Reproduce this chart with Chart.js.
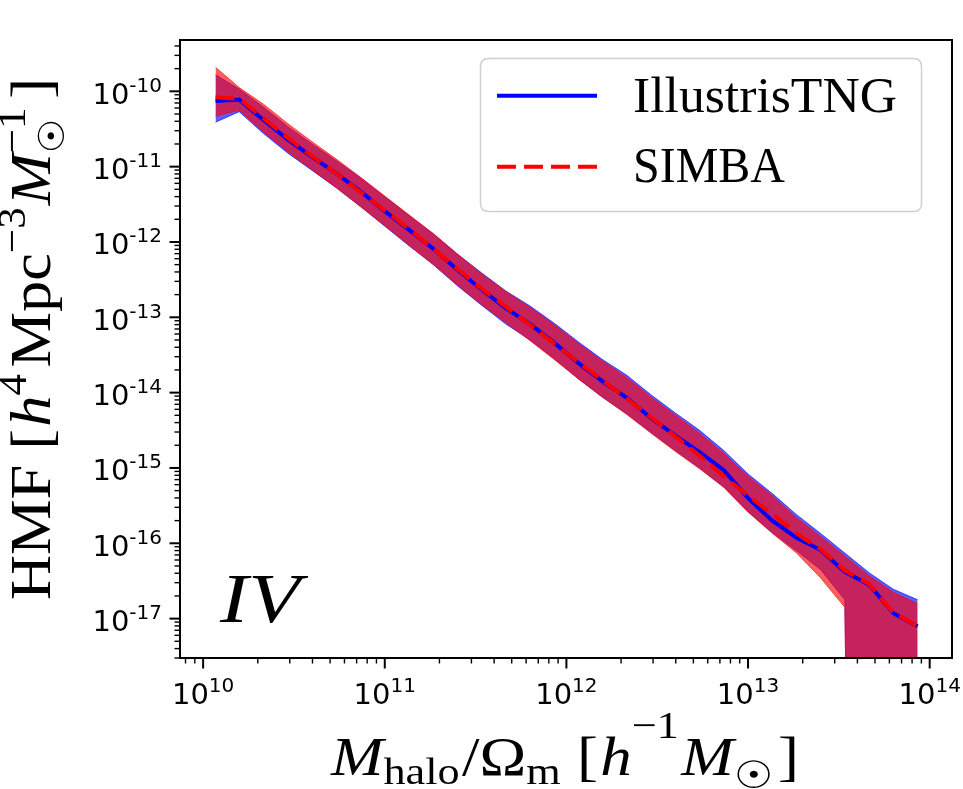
<!DOCTYPE html>
<html>
<head>
<meta charset="utf-8">
<title>HMF IllustrisTNG vs SIMBA</title>
<script src="https://cdn.jsdelivr.net/npm/chart.js@4.4.1/dist/chart.umd.min.js"></script>
<style>
  html, body { margin: 0; padding: 0; background: #fff; }
  canvas { display: block; }
</style>
</head>
<body>
<canvas id="grafico" width="963" height="789"></canvas>
<script>
// Centros de bin de masa [h^-1 Msun]
const masas = [1.17e10, 1.58e10, 2.15e10, 2.93e10, 3.98e10, 5.41e10, 7.36e10, 1.00e11, 1.36e11, 1.85e11,
               2.51e11, 3.41e11, 4.64e11, 6.31e11, 8.58e11, 1.17e12, 1.58e12, 2.15e12, 2.93e12, 3.98e12,
               5.41e12, 7.36e12, 1.00e13, 1.36e13, 1.85e13, 2.51e13, 3.41e13, 4.64e13, 6.31e13, 8.58e13];

// IllustrisTNG: media y banda
const tngMedia = [7.41e-11, 7.76e-11, 4.17e-11, 2.29e-11, 1.35e-11, 8.13e-12, 4.68e-12, 2.57e-12, 1.45e-12, 8.13e-13,
                  4.27e-13, 2.34e-13, 1.32e-13, 8.13e-14, 4.57e-14, 2.45e-14, 1.41e-14, 8.51e-15, 4.57e-15, 2.69e-15,
                  1.62e-15, 9.33e-16, 3.98e-16, 2.00e-16, 1.18e-16, 8.13e-17, 4.17e-17, 2.82e-17, 1.18e-17, 7.94e-18];
const tngArriba = [1.66e-10, 1.07e-10, 6.17e-11, 3.39e-11, 2.00e-11, 1.20e-11, 7.08e-12, 3.98e-12, 2.24e-12, 1.29e-12,
                   6.92e-13, 3.89e-13, 2.24e-13, 1.41e-13, 8.32e-14, 4.68e-14, 2.75e-14, 1.70e-14, 9.33e-15, 5.37e-15,
                   3.16e-15, 1.70e-15, 8.32e-16, 4.57e-16, 2.40e-16, 1.35e-16, 7.41e-17, 4.07e-17, 2.45e-17, 1.78e-17];
// los ultimos bins caen por debajo del eje (limite inferior <= 0)
const tngAbajo = [3.89e-11, 5.37e-11, 2.75e-11, 1.51e-11, 8.91e-12, 5.25e-12, 2.95e-12, 1.62e-12, 8.91e-13, 5.01e-13,
                  2.63e-13, 1.45e-13, 8.13e-14, 5.01e-14, 2.82e-14, 1.51e-14, 8.71e-15, 5.25e-15, 2.95e-15, 1.70e-15,
                  1.00e-15, 5.62e-16, 2.63e-16, 1.38e-16, 7.94e-17, 4.47e-17, 1.78e-17, 1e-40, 1e-40, 1e-40];

// SIMBA: media y banda
const simbaMedia = [8.32e-11, 7.94e-11, 4.37e-11, 2.40e-11, 1.38e-11, 8.13e-12, 4.57e-12, 2.63e-12, 1.48e-12, 8.13e-13,
                    4.37e-13, 2.40e-13, 1.38e-13, 7.94e-14, 4.47e-14, 2.51e-14, 1.45e-14, 8.32e-15, 4.68e-15, 2.63e-15,
                    1.45e-15, 7.76e-16, 4.27e-16, 2.45e-16, 1.35e-16, 8.32e-17, 4.37e-17, 2.88e-17, 1.20e-17, 7.94e-18];
const simbaArriba = [2.09e-10, 1.12e-10, 6.76e-11, 3.72e-11, 2.14e-11, 1.26e-11, 7.24e-12, 4.07e-12, 2.29e-12, 1.29e-12,
                     6.92e-13, 3.80e-13, 2.19e-13, 1.35e-13, 7.94e-14, 4.47e-14, 2.63e-14, 1.58e-14, 8.71e-15, 5.01e-15,
                     2.88e-15, 1.55e-15, 7.76e-16, 4.27e-16, 2.19e-16, 1.23e-16, 6.76e-17, 3.72e-17, 2.24e-17, 1.58e-17];
const simbaAbajo = [4.68e-11, 5.62e-11, 2.88e-11, 1.58e-11, 9.12e-12, 5.25e-12, 2.95e-12, 1.66e-12, 9.12e-13, 5.01e-13,
                    2.69e-13, 1.48e-13, 8.51e-14, 4.90e-14, 2.75e-14, 1.51e-14, 8.71e-15, 5.13e-15, 2.88e-15, 1.66e-15,
                    9.77e-16, 5.50e-16, 2.60e-16, 1.36e-16, 7.41e-17, 3.47e-17, 1.41e-17, 1e-40, 1e-40, 1e-40];

// Ticks mayores y sus exponentes
const xTicks = [1e10, 1e11, 1e12, 1e13, 1e14];
const xTickExp = ["10", "11", "12", "13", "14"];
const yTicks = [1e-10, 1e-11, 1e-12, 1e-13, 1e-14, 1e-15, 1e-16, 1e-17];
const yTickExp = ["-10", "-11", "-12", "-13", "-14", "-15", "-16", "-17"];

const SERIF = '"Liberation Serif", "Times New Roman", serif';
const SANS = '"DejaVu Sans", sans-serif';

function puntos(valores) {
    return valores.map((v, i) => ({ x: masas[i], y: v }));
}

// Dibuja trozos de texto seguidos (sub/superindices); "ancho" estira al ancho pedido
function dibujarTramos(ctx, tramos, x, y, alinear, ancho) {
    const anchos = tramos.map((t) => { ctx.font = t.font; return ctx.measureText(t.text).width; });
    let total = 0, pendiente = 0;
    tramos.forEach((t, i) => {
        total += t.dx || 0;
        if (t.hold) pendiente = anchos[i];
        else { total += Math.max(anchos[i], pendiente); pendiente = 0; }
    });
    const escala = ancho ? ancho / total : 1;
    const real = total * escala;
    let x0 = x;
    if (alinear === "center") x0 = x - real / 2;
    if (alinear === "right") x0 = x - real;
    ctx.save();
    ctx.translate(x0, y);
    ctx.scale(escala, 1);
    ctx.textAlign = "left";
    ctx.textBaseline = "alphabetic";
    let cx = 0;
    pendiente = 0;
    tramos.forEach((t, i) => {
        cx += t.dx || 0;
        ctx.font = t.font;
        ctx.fillText(t.text, cx, t.dy || 0);
        if (t.hold) pendiente = anchos[i];
        else { cx += Math.max(anchos[i], pendiente); pendiente = 0; }
    });
    ctx.restore();
}

function rectRedondo(ctx, x, y, w, h, r) {
    ctx.beginPath();
    ctx.moveTo(x + r, y);
    ctx.lineTo(x + w - r, y);
    ctx.quadraticCurveTo(x + w, y, x + w, y + r);
    ctx.lineTo(x + w, y + h - r);
    ctx.quadraticCurveTo(x + w, y + h, x + w - r, y + h);
    ctx.lineTo(x + r, y + h);
    ctx.quadraticCurveTo(x, y + h, x, y + h - r);
    ctx.lineTo(x, y + r);
    ctx.quadraticCurveTo(x, y, x + r, y);
    ctx.closePath();
}

// Marco, ticks, etiquetas, titulos y leyenda estilo matplotlib
const estiloMpl = {
    id: "estiloMpl",
    afterDraw(chart) {
        const { ctx, chartArea: a, scales } = chart;
        const sx = scales.x, sy = scales.y;
        ctx.save();
        ctx.strokeStyle = "#000";
        ctx.fillStyle = "#000";

        // ticks mayores y menores
        const expX = [9, 10, 11, 12, 13, 14];
        expX.forEach((e) => {
            for (let m = 1; m <= 9; m++) {
                const v = m * Math.pow(10, e);
                if (v < sx.min || v > sx.max) continue;
                const px = sx.getPixelForValue(v);
                ctx.lineWidth = m === 1 ? 2 : 1.4;
                ctx.beginPath();
                ctx.moveTo(px, a.bottom);
                ctx.lineTo(px, a.bottom + (m === 1 ? 10.5 : 5.5));
                ctx.stroke();
            }
        });
        const expY = [-18, -17, -16, -15, -14, -13, -12, -11, -10];
        expY.forEach((e) => {
            for (let m = 1; m <= 9; m++) {
                const v = m * Math.pow(10, e);
                if (v < sy.min || v > sy.max) continue;
                const py = sy.getPixelForValue(v);
                ctx.lineWidth = m === 1 ? 2 : 1.4;
                ctx.beginPath();
                ctx.moveTo(a.left, py);
                ctx.lineTo(a.left - (m === 1 ? 10.5 : 5.5), py);
                ctx.stroke();
            }
        });

        // marco
        ctx.lineWidth = 2;
        ctx.strokeRect(a.left, a.top, a.right - a.left, a.bottom - a.top);

        // etiquetas de ticks
        xTicks.forEach((v, i) => {
            const px = sx.getPixelForValue(v);
            dibujarTramos(ctx, [
                { text: "10", font: "29px " + SANS },
                { text: xTickExp[i], font: "20px " + SANS, dy: -11.6 },
            ], px, a.bottom + 45.5, "center");
        });
        yTicks.forEach((v, i) => {
            const py = sy.getPixelForValue(v);
            dibujarTramos(ctx, [
                { text: "10", font: "29px " + SANS },
                { text: yTickExp[i], font: "20px " + SANS, dy: -12 },
            ], a.left - 18, py + 12.5, "right");
        });

        // titulo eje x
        const fx = "54px " + SERIF, fxi = "italic 54px " + SERIF, fxs = "38px " + SERIF;
        dibujarTramos(ctx, [
            { text: "M", font: fxi },
            { text: "halo", font: fxs, dy: 9 },
            { text: "/", font: fx, dx: 2 },
            { text: "Ω", font: fx },
            { text: "m", font: fxs, dy: 9 },
            { text: "[", font: fx, dx: 14 },
            { text: "h", font: fxi, dx: 2 },
            { text: "−1", font: fxs, dy: -37 },
            { text: "M", font: fxi, dx: 2 },
            { text: "☉", font: "38px " + SANS, dy: 13 },
            { text: "]", font: fx, dx: 4 },
        ], (a.left + a.right) / 2 - 1, 775, "center", 468);

        // titulo eje y (rotado)
        const fy = "58px " + SERIF, fyi = "italic 58px " + SERIF, fys = "40px " + SERIF;
        ctx.save();
        ctx.translate(50, 339);
        ctx.rotate(-Math.PI / 2);
        dibujarTramos(ctx, [
            { text: "HMF", font: fy },
            { text: "[", font: fy, dx: 14 },
            { text: "h", font: fyi, dx: 2 },
            { text: "4", font: fys, dy: -24 },
            { text: "Mpc", font: fy, dx: 6 },
            { text: "−3", font: fys, dy: -25 },
            { text: "M", font: fyi, dx: 2 },
            { text: "☉", font: "36px " + SANS, dy: 14, hold: true },
            { text: "−1", font: fys, dy: -25 },
            { text: "]", font: fy, dx: 8 },
        ], 0, 0, "center", 522);
        ctx.restore();

        // etiqueta del panel
        dibujarTramos(ctx, [{ text: "IV", font: "italic 70px " + SERIF }], 220, 622, "left", 80);

        // leyenda
        ctx.save();
        rectRedondo(ctx, 480.5, 58.5, 441, 153, 8);
        ctx.fillStyle = "rgba(255,255,255,0.8)";
        ctx.fill();
        ctx.strokeStyle = "#d0d0d0";
        ctx.lineWidth = 1.5;
        ctx.stroke();
        const items = [
            { ds: chart.data.datasets[4], y: 95.7, texto: 111.7, ancho: 264 },
            { ds: chart.data.datasets[5], y: 166.7, texto: 181.7, ancho: 152 },
        ];
        items.forEach((it) => {
            ctx.strokeStyle = it.ds.borderColor;
            ctx.lineWidth = it.ds.borderWidth;
            ctx.setLineDash(it.ds.borderDash || []);
            ctx.beginPath();
            ctx.moveTo(497, it.y);
            ctx.lineTo(597, it.y);
            ctx.stroke();
            ctx.setLineDash([]);
            ctx.fillStyle = "#000";
            dibujarTramos(ctx, [{ text: it.ds.label, font: "50px " + SERIF }], 633, it.texto, "left", it.ancho);
        });
        ctx.restore();

        ctx.restore();
    },
};

// Crear grafico
function inicializarGrafico() {
    const ctx = document.getElementById("grafico").getContext("2d");
    new Chart(ctx, {
        type: "line",
        data: {
            datasets: [
                {
                    label: "TNG sup",
                    data: puntos(tngArriba),
                    fill: "+1",
                    backgroundColor: "rgba(0,0,255,0.63)",
                    borderColor: "rgba(0,0,255,0.63)",
                    borderWidth: 1,
                    order: 3,
                },
                {
                    label: "TNG inf",
                    data: puntos(tngAbajo),
                    fill: false,
                    borderColor: "rgba(0,0,255,0.63)",
                    borderWidth: 1,
                    order: 3,
                },
                {
                    label: "SIMBA sup",
                    data: puntos(simbaArriba),
                    fill: "+1",
                    backgroundColor: "rgba(255,0,0,0.63)",
                    borderColor: "rgba(255,0,0,0.63)",
                    borderWidth: 1,
                    order: 2,
                },
                {
                    label: "SIMBA inf",
                    data: puntos(simbaAbajo),
                    fill: false,
                    borderColor: "rgba(255,0,0,0.63)",
                    borderWidth: 1,
                    order: 2,
                },
                {
                    label: "IllustrisTNG",
                    data: puntos(tngMedia),
                    fill: false,
                    borderColor: "#0000ff",
                    borderWidth: 4,
                    order: 1,
                },
                {
                    label: "SIMBA",
                    data: puntos(simbaMedia),
                    fill: false,
                    borderColor: "#ff0000",
                    borderWidth: 4,
                    borderDash: [19, 8],
                    order: 0,
                },
            ],
        },
        options: {
            responsive: false,
            animation: false,
            devicePixelRatio: 1,
            layout: { padding: { left: 0, top: 40, right: 11, bottom: 0 } },
            elements: {
                point: { radius: 0, hoverRadius: 0 },
                line: { tension: 0 },
            },
            plugins: {
                legend: { display: false },
                tooltip: { enabled: false },
            },
            scales: {
                x: {
                    type: "logarithmic",
                    min: 7.46e9,
                    max: 1.327e14,
                    grid: { display: false },
                    border: { display: false },
                    ticks: { display: false },
                    afterFit: (s) => { s.height = 131; },
                },
                y: {
                    type: "logarithmic",
                    min: 3.49e-18,
                    max: 4.8e-10,
                    grid: { display: false },
                    border: { display: false },
                    ticks: { display: false },
                    afterFit: (s) => { s.width = 180; },
                },
            },
        },
        plugins: [estiloMpl],
    });
}

window.onload = inicializarGrafico;
</script>
</body>
</html>
